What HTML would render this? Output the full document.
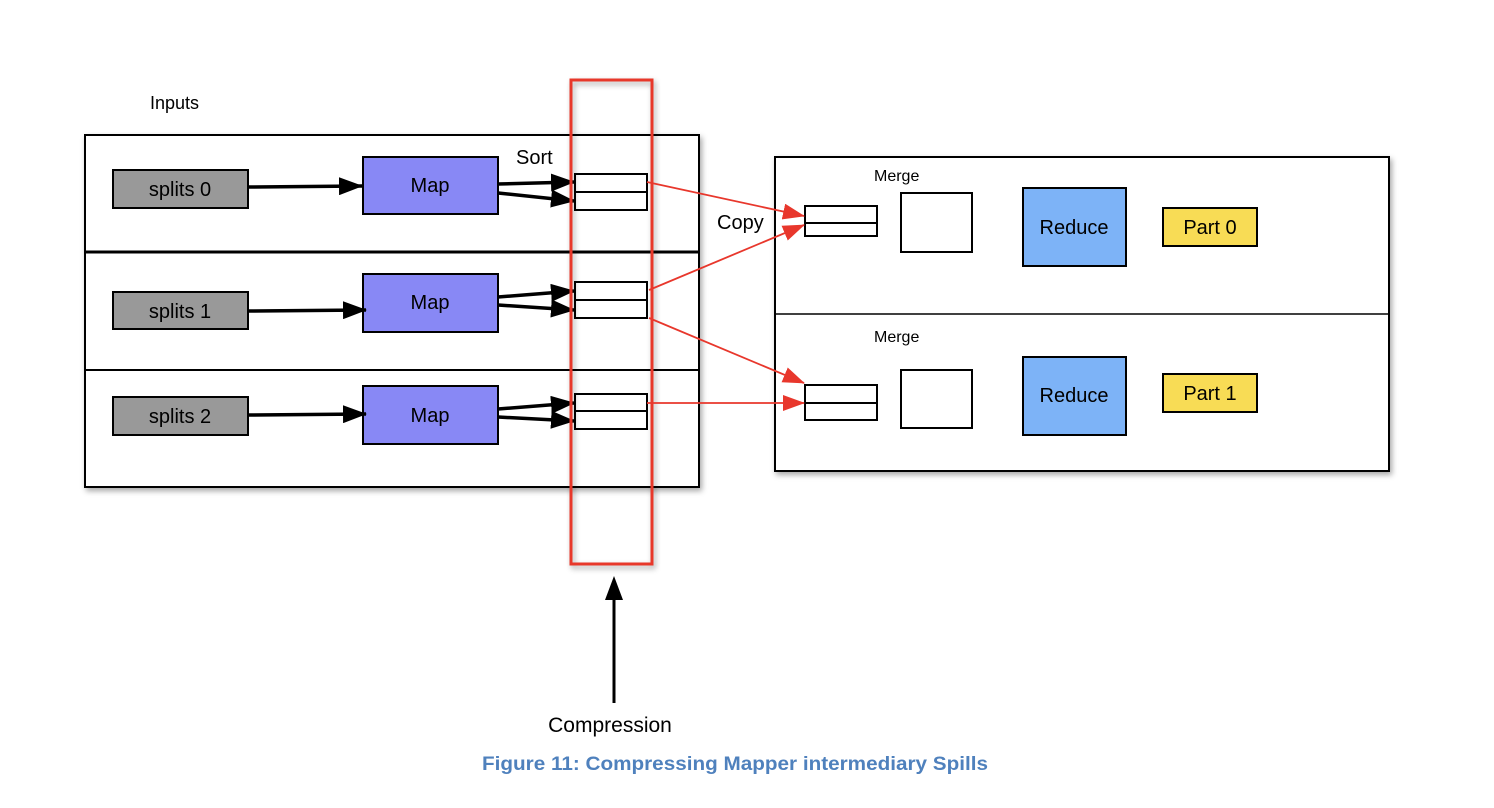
<!DOCTYPE html>
<html><head><meta charset="utf-8"><style>
body{margin:0;background:#fff;}
svg{display:block;font-family:"Liberation Sans",Arial,sans-serif;}
</style></head><body>
<svg width="1494" height="808" viewBox="0 0 1494 808" xmlns="http://www.w3.org/2000/svg">
<defs>
<marker id="abl" markerWidth="24" markerHeight="18" refX="23" refY="9" orient="auto" markerUnits="userSpaceOnUse"><path d="M0,0 L24,9 L0,18z" fill="#000"/></marker>
<marker id="ar" markerWidth="22" markerHeight="16" refX="21" refY="8" orient="auto" markerUnits="userSpaceOnUse"><path d="M0,0 L22,8 L0,16z" fill="#e8372c"/></marker>
<filter id="sh" x="-5%" y="-5%" width="115%" height="115%"><feDropShadow dx="2" dy="3" stdDeviation="3" flood-opacity="0.35"/></filter>
</defs>
<text x="150" y="109" font-size="18">Inputs</text>
<rect x="85" y="135" width="614" height="352" fill="#fff" stroke="#000" stroke-width="2" filter="url(#sh)"/>
<line x1="85" y1="252" x2="699" y2="252" stroke="#000" stroke-width="3"/>
<line x1="85" y1="370" x2="699" y2="370" stroke="#000" stroke-width="2"/>
<g stroke="#000" stroke-width="2" font-size="20">
<rect x="113" y="170" width="135" height="38" fill="#999"/>
<rect x="113" y="292" width="135" height="37" fill="#999"/>
<rect x="113" y="397" width="135" height="38" fill="#999"/>
<rect x="363" y="157" width="135" height="57" fill="#8888f5"/>
<rect x="363" y="274" width="135" height="58" fill="#8888f5"/>
<rect x="363" y="386" width="135" height="58" fill="#8888f5"/>
</g>
<g font-size="20" text-anchor="middle">
<text x="180" y="196">splits 0</text><text x="180" y="318">splits 1</text><text x="180" y="423">splits 2</text>
<text x="430" y="192">Map</text><text x="430" y="309">Map</text><text x="430" y="422">Map</text>
</g>
<g stroke="#000" stroke-width="3.5">
<line x1="248" y1="187" x2="362" y2="186" marker-end="url(#abl)"/>
<line x1="248" y1="311" x2="366" y2="310" marker-end="url(#abl)"/>
<line x1="248" y1="415" x2="366" y2="414" marker-end="url(#abl)"/>
<line x1="498" y1="184" x2="574" y2="182" marker-end="url(#abl)"/>
<line x1="498" y1="193" x2="574" y2="201" marker-end="url(#abl)"/>
<line x1="498" y1="297" x2="574" y2="291" marker-end="url(#abl)"/>
<line x1="498" y1="305" x2="574" y2="310" marker-end="url(#abl)"/>
<line x1="498" y1="409" x2="574" y2="403" marker-end="url(#abl)"/>
<line x1="498" y1="417" x2="574" y2="421" marker-end="url(#abl)"/>
</g>
<text x="516" y="164" font-size="20">Sort</text>
<g fill="#fff" stroke="#000" stroke-width="2">
<rect x="575" y="174" width="72" height="36"/><line x1="575" y1="192" x2="647" y2="192"/>
<rect x="575" y="282" width="72" height="36"/><line x1="575" y1="300" x2="647" y2="300"/>
<rect x="575" y="394" width="72" height="35"/><line x1="575" y1="411" x2="647" y2="411"/>
</g>
<rect x="571" y="80" width="81" height="484" fill="none" stroke="#e8372c" stroke-width="3" filter="url(#sh)"/>
<rect x="775" y="157" width="614" height="314" fill="#fff" stroke="#000" stroke-width="2" filter="url(#sh)"/>
<line x1="775" y1="314" x2="1389" y2="314" stroke="#000" stroke-width="1.5"/>
<text x="874" y="181" font-size="16">Merge</text>
<text x="874" y="342" font-size="16">Merge</text>
<g fill="#fff" stroke="#000" stroke-width="2">
<rect x="805" y="206" width="72" height="30"/><line x1="805" y1="223" x2="877" y2="223"/>
<rect x="805" y="385" width="72" height="35"/><line x1="805" y1="403" x2="877" y2="403"/>
<rect x="901" y="193" width="71" height="59"/>
<rect x="901" y="370" width="71" height="58"/>
<rect x="1023" y="188" width="103" height="78" fill="#7db3f7"/>
<rect x="1023" y="357" width="103" height="78" fill="#7db3f7"/>
<rect x="1163" y="208" width="94" height="38" fill="#f8dc55"/>
<rect x="1163" y="374" width="94" height="38" fill="#f8dc55"/>
</g>
<g font-size="20" text-anchor="middle">
<text x="1074" y="234">Reduce</text><text x="1074" y="402">Reduce</text>
<text x="1210" y="234">Part 0</text><text x="1210" y="400">Part 1</text>
</g>
<text x="717" y="229" font-size="20">Copy</text>
<g stroke="#e8372c" stroke-width="1.8" fill="none">
<line x1="647" y1="182" x2="804" y2="216" marker-end="url(#ar)"/>
<line x1="649" y1="290" x2="804" y2="225" marker-end="url(#ar)"/>
<line x1="649" y1="318" x2="804" y2="383" marker-end="url(#ar)"/>
<line x1="647" y1="403" x2="804" y2="403" marker-end="url(#ar)"/>
</g>
<line x1="614" y1="703" x2="614" y2="598" stroke="#000" stroke-width="3"/>
<path d="M614,576 L623,600 L605,600z" fill="#000"/>
<text x="610" y="732" font-size="21" text-anchor="middle">Compression</text>
<text x="482" y="770" font-size="19" font-weight="bold" fill="#4f81bd" textLength="506" lengthAdjust="spacingAndGlyphs">Figure 11: Compressing Mapper intermediary Spills</text>
</svg>
</body></html>
